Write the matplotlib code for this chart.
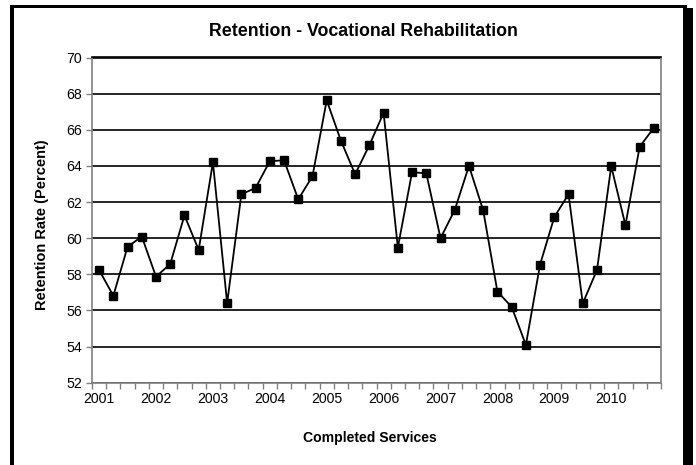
import matplotlib
matplotlib.use("Agg")
import matplotlib.pyplot as plt
from matplotlib.patches import Rectangle
from matplotlib.ticker import FixedLocator, NullFormatter

plt.rcParams['font.family'] = ['Liberation Sans', 'DejaVu Sans']

years = ["2001", "2002", "2003", "2004", "2005", "2006", "2007", "2008", "2009", "2010"]
retention = [58.24, 56.81, 59.52, 60.09, 57.87, 58.57, 61.26, 59.35,
             64.20, 56.41, 62.43, 62.78, 64.26, 64.31, 62.15, 63.43,
             67.63, 65.39, 63.54, 65.15, 66.94, 59.48, 63.65, 63.59,
             60.00, 61.56, 64.00, 61.54, 57.04, 56.20, 54.09, 58.54,
             61.17, 62.43, 56.39, 58.24, 63.98, 60.72, 65.06, 66.11]
yticks = [52, 54, 56, 58, 60, 62, 64, 66, 68, 70]

W, H = 696, 465
fig = plt.figure(figsize=(W / 100, H / 100), dpi=100)
fig.patch.set_facecolor("white")

L, R, T, B = 92, 661, 57.5, 382.7
ax = fig.add_axes([L / W, 1 - B / H, (R - L) / W, (B - T) / H])

x = list(range(len(retention)))
ax.plot(x, retention, color="black", lw=1.3, marker="s", ms=5.2,
        mfc="black", mec="black", zorder=3, clip_on=False)

ax.set_xlim(-0.5, len(retention) - 0.5)
ax.set_ylim(52, 70)
ax.set_yticks(yticks)
ax.yaxis.grid(True, color="black", lw=1.2)
ax.set_axisbelow(True)

ax.set_xticks([i * 4 for i in range(len(years))])
ax.set_xticklabels(years, fontsize=10.2)
ax.tick_params(axis="x", which="major", length=0, pad=7)
ax.xaxis.set_minor_locator(FixedLocator([i - 0.5 for i in range(len(retention) + 1)]))
ax.xaxis.set_minor_formatter(NullFormatter())
ax.tick_params(axis="x", which="minor", length=4, width=1, color="#808080", direction="out")
ax.tick_params(axis="y", length=4, width=1, color="#808080", labelsize=10.2, pad=3)

for s in ["left", "bottom", "right"]:
    ax.spines[s].set_color("#808080")
    ax.spines[s].set_linewidth(1.2)
ax.spines["top"].set_color("black")
ax.spines["top"].set_linewidth(1.2)

fig.text(363 / W, 1 - 31 / H, "Retention - Vocational Rehabilitation",
         ha="center", va="center", fontsize=12.8, fontweight="bold")
fig.text(370 / W, 1 - 438 / H, "Completed Services",
         ha="center", va="center", fontsize=10.1, fontweight="bold")
fig.text(42 / W, 1 - 225 / H, "Retention Rate (Percent)",
         ha="center", va="center", rotation=90, fontsize=10.5, fontweight="bold")

# outer frame
def px_rect(x0, y0, x1, y1):
    fig.patches.append(Rectangle((x0 / W, 1 - y1 / H), (x1 - x0) / W, (y1 - y0) / H,
                                 transform=fig.transFigure, facecolor="black",
                                 edgecolor="none", zorder=10))

px_rect(10, 5, 14, H)
px_rect(10, 5, 687, 8.5)
px_rect(683, 8, 693, H)

fig.savefig("out.png", dpi=100)
